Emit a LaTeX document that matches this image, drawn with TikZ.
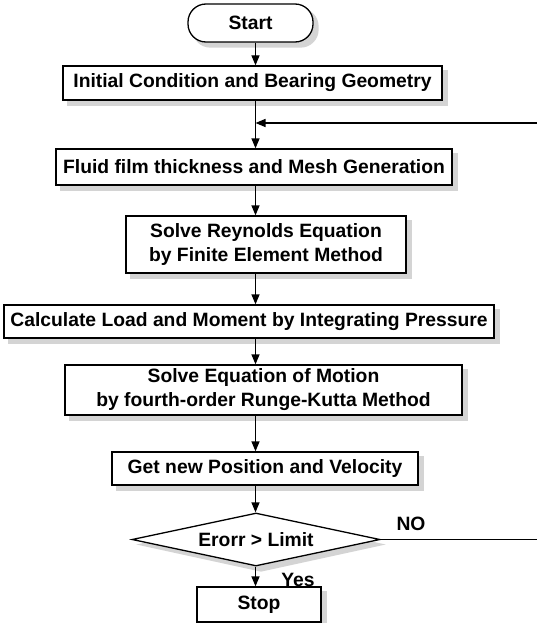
\documentclass[tikz,border=0pt]{standalone}
\usepackage{fontspec}
\setmainfont{Liberation Sans}
\usetikzlibrary{arrows.meta,shapes.geometric,backgrounds}
\begin{document}
\begin{tikzpicture}[x=1pt,y=-1pt,
  every node/.style={font=\fontsize{19.3}{24}\selectfont\bfseries},
  stepbox/.style={draw,line width=1.3pt,fill=white,rectangle,inner sep=0pt,align=center},
  term/.style={stepbox,rounded corners=18pt},
  decide/.style={draw,line width=1.3pt,fill=white,diamond,aspect=4.68,inner sep=0pt},
  arr/.style={line width=1.3pt,-{Triangle[length=10pt,width=8pt]}},
  shd/.style={fill=black!17},
  lbl/.style={inner sep=0pt}]
\useasboundingbox (0,0) rectangle (536,623);
\node[term,minimum width=125pt,minimum height=38pt] (start) at (250.5,23) {Start};
\node[stepbox,minimum width=379pt,minimum height=34pt] (b1) at (252.5,83) {Initial Condition and Bearing Geometry};
\node[stepbox,minimum width=396pt,minimum height=36pt] (b2) at (254,167) {Fluid film thickness and Mesh Generation};
\node[stepbox,minimum width=280pt,minimum height=57pt] (b3) at (266,244.5) {Solve Reynolds Equation\\by Finite Element Method};
\node[stepbox,minimum width=490pt,minimum height=33pt] (b4) at (249,321.5) {Calculate Load and Moment by Integrating Pressure};
\node[stepbox,minimum width=397pt,minimum height=50pt] (b5) at (263.5,390) {Solve Equation of Motion\\by fourth-order Runge-Kutta Method};
\node[stepbox,minimum width=306pt,minimum height=33pt] (b6) at (265,468.5) {Get new Position and Velocity};
\node[decide,minimum width=248pt,minimum height=53pt] (d) at (256,539.5) {\raisebox{-4pt}{Erorr > Limit}};
\node[stepbox,minimum width=124pt,minimum height=35pt] (stop) at (259,604.5) {Stop};
\node[lbl] (no) at (411,524) {NO};
\node[lbl] (yes) at (298,580) {Yes};
\coordinate (sp) at (255.5,0);
\coordinate (j) at (255.5,123);
\coordinate (r) at (545,0);
\draw[arr] (start.south -| sp) -- (b1.north -| sp);
\draw[arr] (b1.south -| sp) -- (b2.north -| sp);
\draw[arr] (b2.south -| sp) -- (b3.north -| sp);
\draw[arr] (b3.south -| sp) -- (b4.north -| sp);
\draw[arr] (b4.south -| sp) -- (b5.north -| sp);
\draw[arr] (b5.south -| sp) -- (b6.north -| sp);
\draw[arr] (b6.south -| sp) -- (d.north -| sp);
\draw[arr] (d.south -| sp) -- (stop.north -| sp);
\draw[arr] (d.east) -- (d.east -| r) |- (j);
\begin{scope}[on background layer]
\fill[white] (0,0) rectangle (536,623);
\foreach \n in {b1,b2,b3,b4,b5,b6,stop}
  \fill[shd] ([shift={(5,5)}]\n.north west) rectangle ([shift={(5,5)}]\n.south east);
\fill[shd,rounded corners=18pt] ([shift={(5,5)}]start.north west) rectangle ([shift={(5,5)}]start.south east);
\fill[shd] ([shift={(5,5)}]d.north) -- ([shift={(5,5)}]d.east) -- ([shift={(5,5)}]d.south) -- ([shift={(5,5)}]d.west) -- cycle;
\end{scope}
\end{tikzpicture}
\end{document}
